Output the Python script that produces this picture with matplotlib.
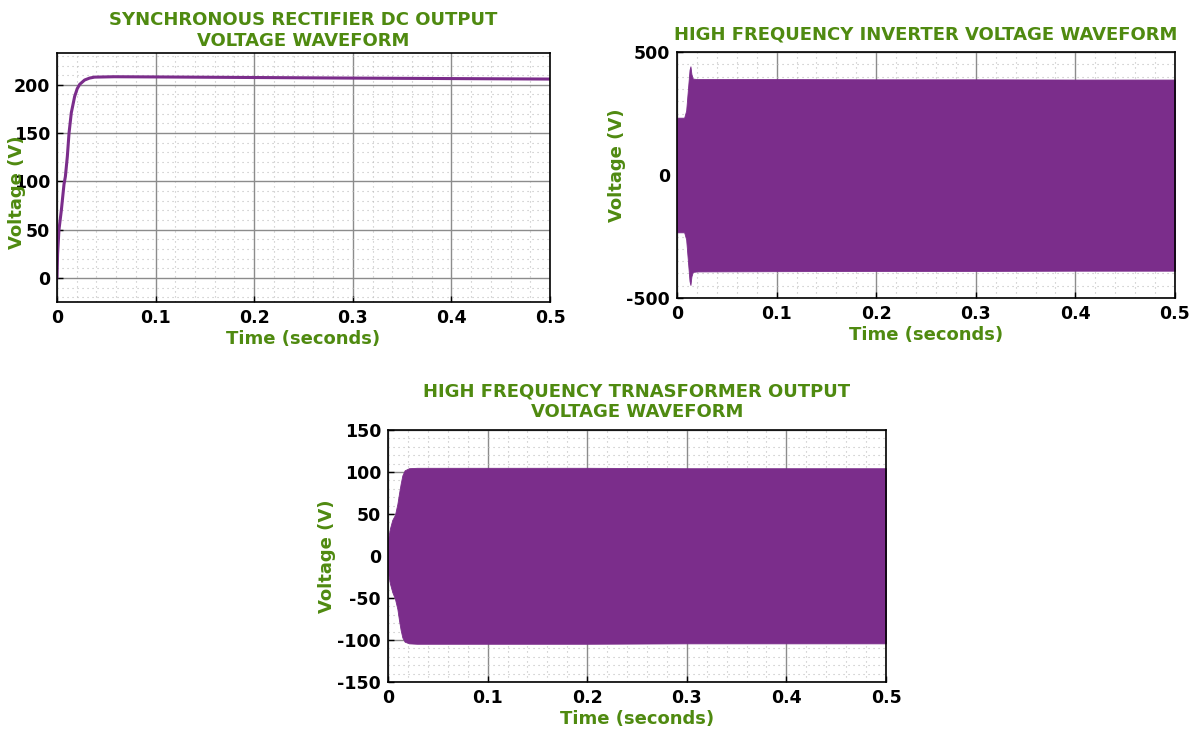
import matplotlib
matplotlib.use("Agg")
import matplotlib.pyplot as plt
from matplotlib.ticker import MultipleLocator

# ---- data ----------------------------------------------------------------
# Synchronous rectifier DC output voltage (time in s, voltage in V)
t_dc = [0, 0.0006, 0.002, 0.0044, 0.0071, 0.0085, 0.0105, 0.0122, 0.0145,
        0.0179, 0.0205, 0.023, 0.028, 0.033, 0.038, 0.058, 0.1, 0.2, 0.3,
        0.4, 0.5]
v_dc = [0, 25, 50, 70, 97, 105, 126, 150, 171,
        188, 196, 200.5, 205, 207, 208, 208.4, 208.2, 207.6, 207,
        206.5, 206]

# High frequency inverter voltage envelope (upper / lower bound, V)
t_inv = [0, 0.0072, 0.0092, 0.0112, 0.0126, 0.0135, 0.0145, 0.0158,
         0.02, 0.1, 0.2, 0.3, 0.4, 0.5]
inv_hi = [233, 233, 262, 360, 428, 442, 410, 392,
          390, 390, 389, 389, 388, 388]
inv_lo = [-233, -233, -262, -362, -432, -447, -412, -394,
          -392, -391, -390, -390, -389, -389]

# High frequency transformer output voltage envelope (upper / lower bound, V)
t_tr = [0, 0.002, 0.0043, 0.007, 0.0094, 0.011, 0.0127, 0.0144, 0.0167,
        0.021, 0.029, 0.1, 0.2, 0.3, 0.4, 0.5]
tr_hi = [20, 33, 43, 49, 62, 74, 86, 96, 102,
         104.5, 105, 105, 105, 104.5, 104.5, 104.5]
tr_lo = [-20, -33, -43, -51, -63, -76, -88, -97, -102,
         -104, -104.5, -104.5, -104.5, -104, -104, -104]

x_ticks = [0, 0.1, 0.2, 0.3, 0.4, 0.5]
x_ticklabels = ["0", "0.1", "0.2", "0.3", "0.4", "0.5"]

# ---- styling --------------------------------------------------------------
GREEN = "#4f8a10"
PURPLE = "#7b2d8b"
plt.rcParams["font.family"] = ["DejaVu Sans"]
plt.rcParams["font.weight"] = "bold"
plt.rcParams["axes.unicode_minus"] = False

fig = plt.figure(figsize=(11.99, 7.36), dpi=100)
W, H = 1199, 736


def make_axes(x0, y0, x1, y1):
    return fig.add_axes([x0 / W, 1 - y1 / H, (x1 - x0) / W, (y1 - y0) / H])


def style(ax, ylim, yticks, yminor, title, title_pad, ylab_x, ylab_y):
    ax.set_xlim(0, 0.5)
    ax.set_ylim(*ylim)
    ax.set_xticks(x_ticks)
    ax.set_xticklabels(x_ticklabels)
    ax.set_yticks(yticks)
    ax.xaxis.set_minor_locator(MultipleLocator(0.02))
    ax.yaxis.set_minor_locator(MultipleLocator(yminor))
    ax.set_axisbelow(True)
    ax.grid(which="major", color="#8c8c8c", linewidth=1.0)
    ax.grid(which="minor", color="#bdbdbd", linewidth=0.8,
            linestyle=(0, (1, 3.5)))
    ax.tick_params(which="major", direction="in", length=4, width=1,
                   labelsize=12.5, pad=5)
    ax.tick_params(which="minor", length=0)
    for lab in ax.get_xticklabels() + ax.get_yticklabels():
        lab.set_fontweight("bold")
    for s in ax.spines.values():
        s.set_linewidth(1.2)
        s.set_color("black")
    ax.set_title(title, color=GREEN, fontsize=13, fontweight="bold",
                 pad=title_pad, linespacing=1.2)
    ax.set_xlabel("Time (seconds)", color=GREEN, fontsize=13,
                  fontweight="bold", labelpad=2)
    ax.set_ylabel("Voltage (V)", color=GREEN, fontsize=13, fontweight="bold")
    ax.yaxis.set_label_coords(ylab_x, ylab_y)


# Synchronous rectifier DC output
ax1 = make_axes(57, 53, 550, 302)
ax1.plot(t_dc, v_dc, color=PURPLE, linewidth=2.2, solid_capstyle="round")
style(ax1, (-25, 233), [0, 50, 100, 150, 200], 10,
      "SYNCHRONOUS RECTIFIER DC OUTPUT\nVOLTAGE WAVEFORM", 5,
      -0.062, 0.44)

# High frequency inverter voltage
ax2 = make_axes(677, 52, 1175, 298)
ax2.fill_between(t_inv, inv_lo, inv_hi, color=PURPLE, linewidth=0.6,
                 edgecolor=PURPLE)
style(ax2, (-500, 500), [-500, 0, 500], 50,
      "HIGH FREQUENCY INVERTER VOLTAGE WAVEFORM", 9,
      -0.102, 0.54)

# High frequency transformer output voltage
ax3 = make_axes(388, 430, 886, 682)
ax3.fill_between(t_tr, tr_lo, tr_hi, color=PURPLE,
                 linewidth=0.6, edgecolor=PURPLE)
style(ax3, (-150, 150), [-150, -100, -50, 0, 50, 100, 150], 10,
      "HIGH FREQUENCY TRNASFORMER OUTPUT\nVOLTAGE WAVEFORM", 9,
      -0.104, 0.5)

fig.savefig("out.png", dpi=100, facecolor="white")
